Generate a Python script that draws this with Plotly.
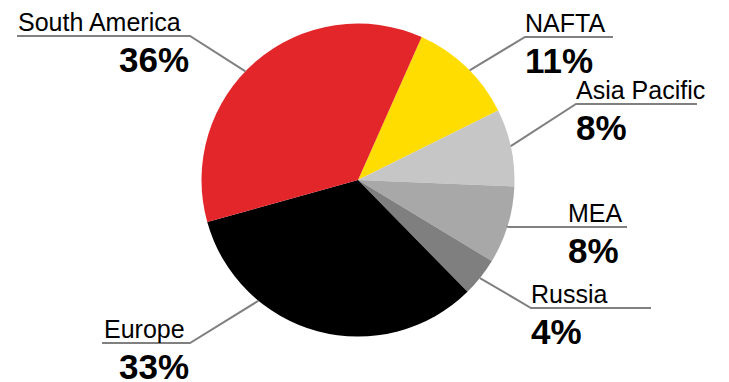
import math
import plotly.graph_objects as go

# Regional share of sales
regions = ["NAFTA", "Asia Pacific", "MEA", "Russia", "Europe", "South America"]
shares = [11, 8, 8, 4, 33, 36]
colors = ["#FFDD00", "#C6C6C6", "#A8A8A8", "#7F7F7F", "#000000", "#E3262A"]

W, H = 729, 382
CX, CY, R = 358.0, 180.0, 156.5  # pie centre / radius in pixels

# Callout layout: leader attach angle (deg clockwise from 12 o'clock),
# elbow x, underline y, underline far end x, text x, alignment side
callouts = {
    "South America": dict(angle=314, elbow=190, y=36, end=17, tx=17, side="left"),
    "NAFTA": dict(angle=45.5, elbow=525, y=37, end=613, tx=524, side="right"),
    "Asia Pacific": dict(angle=77.5, elbow=576, y=104, end=697, tx=575, side="right"),
    "MEA": dict(angle=107.5, elbow=None, y=227, end=627, tx=567, side="right"),
    "Russia": dict(angle=128.8, elbow=531, y=308, end=651, tx=530, side="right"),
    "Europe": dict(angle=219.5, elbow=190, y=343, end=102, tx=103, side="left"),
}


def px(x):
    return x / W


def py(y):
    return 1 - y / H


fig = go.Figure(
    go.Pie(
        labels=regions,
        values=shares,
        sort=False,
        direction="clockwise",
        rotation=24,
        marker=dict(colors=colors, line=dict(width=0)),
        textinfo="none",
        hoverinfo="label+percent",
        showlegend=False,
        domain=dict(x=[px(CX - R), px(CX + R)], y=[py(CY + R), py(CY - R)]),
    )
)

shapes = []
annotations = []
font = "Liberation Sans, Arial, sans-serif"
for name, share in zip(regions, shares):
    c = callouts[name]
    a = math.radians(c["angle"])
    ax = CX + R * math.sin(a)
    ay = CY - R * math.cos(a)
    ex = c["elbow"] if c["elbow"] is not None else ax
    path = f"M {px(ax)} {py(ay)} L {px(ex)} {py(c['y'])} L {px(c['end'])} {py(c['y'])}"
    shapes.append(dict(type="path", xref="paper", yref="paper", path=path,
                       line=dict(color="#808080", width=2)))
    annotations.append(dict(
        x=px(c["tx"]), y=py(c["y"]), xref="paper", yref="paper",
        text=name, showarrow=False, xanchor="left", yanchor="bottom",
        borderpad=0, yshift=-1,
        font=dict(family=font, size=25, color="#000000"),
    ))
    if c["side"] == "left":
        pct_x, anchor = px(c["elbow"]), "right"
    else:
        pct_x, anchor = px(c["tx"]), "left"
    annotations.append(dict(
        x=pct_x, y=py(c["y"]), xref="paper", yref="paper",
        text=f"<b>{share}%</b>", showarrow=False, xanchor=anchor, yanchor="top",
        borderpad=0, yshift=-3,
        font=dict(family=font, size=35, color="#000000"),
    ))

fig.update_layout(
    width=W, height=H,
    margin=dict(l=0, r=0, t=0, b=0),
    paper_bgcolor="white", plot_bgcolor="white",
    shapes=shapes, annotations=annotations,
)

fig.write_html("out.html")
